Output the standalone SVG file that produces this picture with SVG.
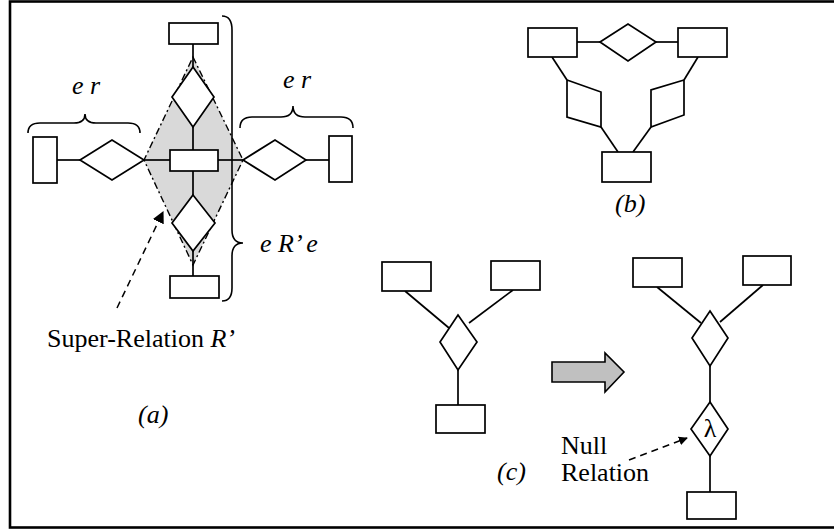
<svg xmlns="http://www.w3.org/2000/svg" width="834" height="531" viewBox="0 0 834 531">
  <style>
    .ent { fill: #fff; stroke: #000; stroke-width: 1.7; }
    .rel { fill: #fff; stroke: #000; stroke-width: 1.7; stroke-linejoin: miter; }
    .ln { fill: none; stroke: #000; stroke-width: 1.7; }
    .brace { fill: none; stroke: #000; stroke-width: 1.6; }
    .dash { fill: none; stroke: #000; stroke-width: 1.5; stroke-dasharray: 7 5; }
    .txt { font-family: "Liberation Serif", "Times New Roman", serif; font-size: 26px; fill: #000; }
    .it { font-style: italic; }
  </style>
  <defs>
    <marker id="arrow" viewBox="0 0 10 10" refX="9" refY="5" markerWidth="9" markerHeight="9" markerUnits="userSpaceOnUse" orient="auto">
      <path d="M0,0 L10,5 L0,10 z" fill="#000"/>
    </marker>
    <marker id="arrowBig" viewBox="0 0 10 10" refX="9" refY="5" markerWidth="12" markerHeight="12" markerUnits="userSpaceOnUse" orient="auto">
      <path d="M0,0 L10,5 L0,10 z" fill="#000"/>
    </marker>
  </defs>

  <!-- outer frame -->
  <rect x="10" y="1.5" width="830" height="526" fill="#fff" stroke="#000" stroke-width="2.6"/>

  <!-- ===================== (a) ===================== -->
  <!-- shaded super-relation region -->
  <g id="super-relation">
    <polygon points="193,57 243,160 193,265 144,160" fill="#d9d9d9" stroke="#000" stroke-width="1.4" stroke-dasharray="7 3 2 3"/>
  </g>

  <g id="connectors-a">
    <line class="ln" x1="193" y1="44" x2="193" y2="67"/>
    <line class="ln" x1="193" y1="127" x2="193" y2="150"/>
    <line class="ln" x1="193" y1="171" x2="193" y2="195"/>
    <line class="ln" x1="193" y1="251" x2="193" y2="276"/>
    <line class="ln" x1="57" y1="160" x2="80" y2="160"/>
    <line class="ln" x1="144" y1="160" x2="170" y2="160"/>
    <line class="ln" x1="218" y1="160" x2="243" y2="160"/>
    <line class="ln" x1="306" y1="160" x2="329" y2="160"/>
    <line class="dash" x1="117" y1="308" x2="163" y2="212" marker-end="url(#arrowBig)"/>
  </g>

  <g id="a-top-entity"><rect class="ent" x="169" y="23" width="49" height="21"/></g>
  <g id="a-top-relation"><polygon class="rel" points="193,67 214,97 193,127 172,97"/></g>
  <g id="a-center-entity"><rect class="ent" x="170" y="150" width="48" height="21"/></g>
  <g id="a-bottom-relation"><polygon class="rel" points="193,195 215,223 193,251 172,223"/></g>
  <g id="a-bottom-entity"><rect class="ent" x="170" y="276" width="49" height="22"/></g>
  <g id="a-left-entity"><rect class="ent" x="33" y="137" width="24" height="46"/></g>
  <g id="a-left-relation"><polygon class="rel" points="80,160 112,140 144,160 112,180"/></g>
  <g id="a-right-relation"><polygon class="rel" points="243,160 275,140 306,160 275,180"/></g>
  <g id="a-right-entity"><rect class="ent" x="329" y="136" width="23" height="46"/></g>

  <!-- braces and labels -->
  <g id="a-braces">
    <path class="brace" d="M28,133 Q28,123 40,123 L74,123 Q85,123 85,114 Q85,123 96,123 L128,123 Q140,123 140,133"/>
    <path class="brace" d="M240,128 Q240,117 252,117 L281,117 Q293,117 293,106 Q293,117 305,117 L341,117 Q353,117 353,128"/>
    <path class="brace" d="M222,16 Q232,16 232,30 L232,230 Q232,243 243,243 Q232,243 232,256 L232,288 Q232,301 222,301"/>
  </g>
  <g id="a-labels">
    <text class="txt it" x="72" y="94">e r</text>
    <text class="txt it" x="283" y="88">e r</text>
    <text class="txt it" x="260" y="252">e R’ e</text>
    <text class="txt" x="47" y="347">Super-Relation <tspan class="it">R’</tspan></text>
    <text class="txt it" x="138" y="423">(a)</text>
  </g>

  <!-- ===================== (b) ===================== -->
  <g id="connectors-b">
    <line class="ln" x1="577" y1="42" x2="600" y2="42"/>
    <line class="ln" x1="656" y1="42" x2="678" y2="42"/>
    <line class="ln" x1="552" y1="57" x2="567" y2="80"/>
    <line class="ln" x1="601" y1="127" x2="618" y2="152"/>
    <line class="ln" x1="698" y1="57" x2="684" y2="80"/>
    <line class="ln" x1="651" y1="127" x2="633" y2="152"/>
  </g>
  <g id="b-left-entity"><rect class="ent" x="528" y="28" width="49" height="29"/></g>
  <g id="b-top-relation"><polygon class="rel" points="600,42 628,24 656,42 628,61"/></g>
  <g id="b-right-entity"><rect class="ent" x="678" y="28" width="49" height="29"/></g>
  <g id="b-left-relation"><polygon class="rel" points="567,80 601,92 601,127 567,117"/></g>
  <g id="b-right-relation"><polygon class="rel" points="684,80 651,90 651,127 684,115"/></g>
  <g id="b-bottom-entity"><rect class="ent" x="602" y="152" width="49" height="30"/></g>
  <text class="txt it" x="615" y="212">(b)</text>

  <!-- ===================== (c) ===================== -->
  <g id="connectors-c">
    <line class="ln" x1="405" y1="291" x2="449" y2="328"/>
    <line class="ln" x1="513" y1="290" x2="469" y2="323"/>
    <line class="ln" x1="458" y1="370" x2="458" y2="405"/>
    <line class="ln" x1="657" y1="287" x2="701" y2="323"/>
    <line class="ln" x1="763" y1="285" x2="720" y2="322"/>
    <line class="ln" x1="710" y1="366" x2="710" y2="402"/>
    <line class="ln" x1="710" y1="456" x2="710" y2="492"/>
    <line class="dash" x1="629" y1="460" x2="687" y2="438" stroke-dasharray="6 4" marker-end="url(#arrow)"/>
  </g>

  <!-- before -->
  <g id="c1-left-entity"><rect class="ent" x="382" y="262" width="49" height="29"/></g>
  <g id="c1-right-entity"><rect class="ent" x="491" y="261" width="49" height="29"/></g>
  <g id="c1-relation"><polygon class="rel" points="458,315 477,342 458,370 440,342"/></g>
  <g id="c1-bottom-entity"><rect class="ent" x="436" y="405" width="49" height="28"/></g>

  <!-- transformation arrow -->
  <g id="c-transform-arrow">
    <polygon points="552,362 605,362 605,353 624,372 605,392 605,382 552,382" fill="#c0c0c0" stroke="#000" stroke-width="1.6"/>
  </g>

  <!-- after -->
  <g id="c2-left-entity"><rect class="ent" x="633" y="258" width="49" height="29"/></g>
  <g id="c2-right-entity"><rect class="ent" x="743" y="256" width="48" height="29"/></g>
  <g id="c2-relation"><polygon class="rel" points="710,311 728,338 710,366 692,338"/></g>
  <g id="c2-null-relation">
    <polygon class="rel" points="710,402 728,429 710,456 691,429"/>
    <text class="txt" x="710" y="437" font-size="22" text-anchor="middle">λ</text>
  </g>
  <g id="c2-bottom-entity"><rect class="ent" x="687" y="492" width="49" height="27"/></g>

  <g id="c-labels">
    <text class="txt" x="561" y="454">Null</text>
    <text class="txt" x="561" y="481">Relation</text>
    <text class="txt it" x="497" y="480">(c)</text>
  </g>
</svg>
